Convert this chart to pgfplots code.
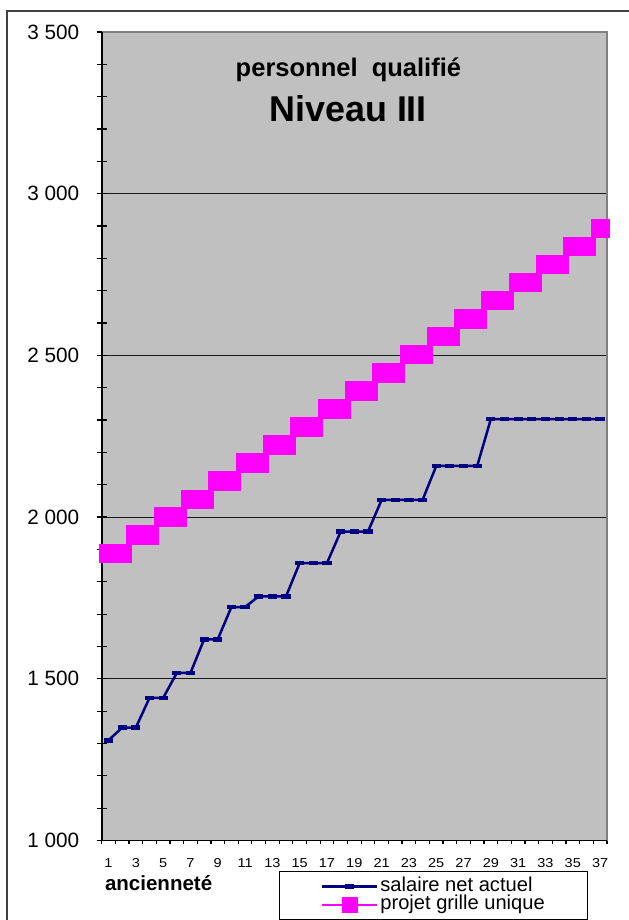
\documentclass[border=0pt]{standalone}
\usepackage{fontspec}
\setmainfont{Liberation Sans}
\usepackage{pgfplots}
\pgfplotsset{compat=1.18}
\definecolor{plotgray}{RGB}{192,192,192}
\definecolor{bordergray}{RGB}{128,128,128}
\definecolor{salnavy}{RGB}{0,0,128}
\definecolor{grillemag}{RGB}{255,0,255}

\begin{document}
\begin{tikzpicture}
\useasboundingbox (0,0) rectangle (314.5bp,460bp);
% chart frame, cut by the page on the right and at the bottom
\draw[black!75, line width=1bp] (3.5bp,-5bp) -- (3.5bp,454.5bp) -- (330bp,454.5bp);
\begin{axis}[
  at={(50.85bp,39.75bp)}, anchor=south west,
  scale only axis, width=252.6bp, height=404.25bp,
  xmin=0.5, xmax=37.5, ymin=1000, ymax=3500,
  clip=false,
  axis background/.style={fill=plotgray},
  axis line style={draw=none},
  /pgf/number format/assume math mode=true,
  xtick pos=bottom, ytick pos=left,
  tick align=center, major tick length=5bp, minor tick length=5bp,
  tick style={black, line width=0.6bp},
  ytick={1000,1500,...,3500},
  yticklabels={1 000,1 500,2 000,2 500,3 000,3 500},
  minor y tick num=4,
  ymajorgrids, major grid style={black!90, line width=0.5bp},
  yticklabel style={font=\fontsize{10.4}{12}\selectfont, anchor=east, inner sep=0pt, xshift=-8.5bp},
  xtick={1,3,...,37},
  every major x tick/.append style={draw=none},
  xticklabel style={font=\fontsize{6.5}{8}\selectfont, xscale=1.12, anchor=north, inner sep=0pt, yshift=-6.4bp},
  extra x ticks={0.5,1.5,...,37.5},
  extra x tick labels={},
  extra x tick style={tick align=outside, major tick length=1.7bp,
    every major x tick/.style={black, line width=0.6bp}},
  legend style={at={(0.3515,-0.0377)}, anchor=north west, draw=black, line width=0.6bp,
    fill=white, font=\fontsize{10.1}{11}\selectfont, inner xsep=20.5bp, inner ysep=2.8bp,
    row sep=0pt, nodes={text height=6.7bp, text depth=1.9bp, inner ysep=0.3bp, inner xsep=1bp}},
  legend cell align=left,
  legend image code/.code={\draw[mark repeat=2,mark phase=2,#1] plot coordinates {(0bp,0bp) (13.75bp,0bp) (27.5bp,0bp)};},
]
\draw[bordergray, line width=1.2bp] (rel axis cs:0,1) -- (rel axis cs:1,1) -- (rel axis cs:1,0);
\draw[black, line width=0.9bp] (rel axis cs:1,0) -- (rel axis cs:0,0) -- (rel axis cs:0,1);

\addplot[color=salnavy, line width=1.25bp, mark=-, mark size=2.3bp,
  mark options={line width=2.3bp, solid}] coordinates {
  (1,1310) (2,1349) (3,1349) (4,1441) (5,1441) (6,1518) (7,1518) (8,1622)
  (9,1622) (10,1722) (11,1722) (12,1755) (13,1755) (14,1755) (15,1858)
  (16,1858) (17,1858) (18,1955) (19,1955) (20,1955) (21,2053) (22,2053)
  (23,2053) (24,2053) (25,2158) (26,2158) (27,2158) (28,2158) (29,2303)
  (30,2303) (31,2303) (32,2303) (33,2303) (34,2303) (35,2303) (36,2303) (37,2303)
};
\addlegendentry{salaire net actuel}

\addplot[color=grillemag, line width=1.25bp, mark=square*, mark size=4.6bp,
  mark options={fill=grillemag, draw=grillemag, line width=0.2bp},
  legend image post style={mark size=3.7bp}] coordinates {
  (1,1889) (2,1889) (3,1945) (4,1945) (5,2001) (6,2001) (7,2056) (8,2056)
  (9,2112) (10,2112) (11,2168) (12,2168) (13,2224) (14,2224) (15,2280)
  (16,2280) (17,2335) (18,2335) (19,2391) (20,2391) (21,2447) (22,2447)
  (23,2503) (24,2503) (25,2559) (26,2559) (27,2614) (28,2614) (29,2670)
  (30,2670) (31,2726) (32,2726) (33,2782) (34,2782) (35,2838) (36,2838) (37,2893)
};
\addlegendentry{projet grille unique}
\end{axis}

\node[anchor=base, inner sep=0pt, font=\bfseries\fontsize{12.8}{14}\selectfont]
  at (174.2bp,421.5bp) {personnel~~qualifié};
\node[anchor=base, inner sep=0pt, font=\bfseries\fontsize{18}{20}\selectfont]
  at (174.1bp,399.2bp) {Niveau III};
\node[anchor=base west, inner sep=0pt, font=\bfseries\fontsize{10.3}{12}\selectfont]
  at (52.3bp,15bp) {ancienneté};
\end{tikzpicture}
\end{document}
